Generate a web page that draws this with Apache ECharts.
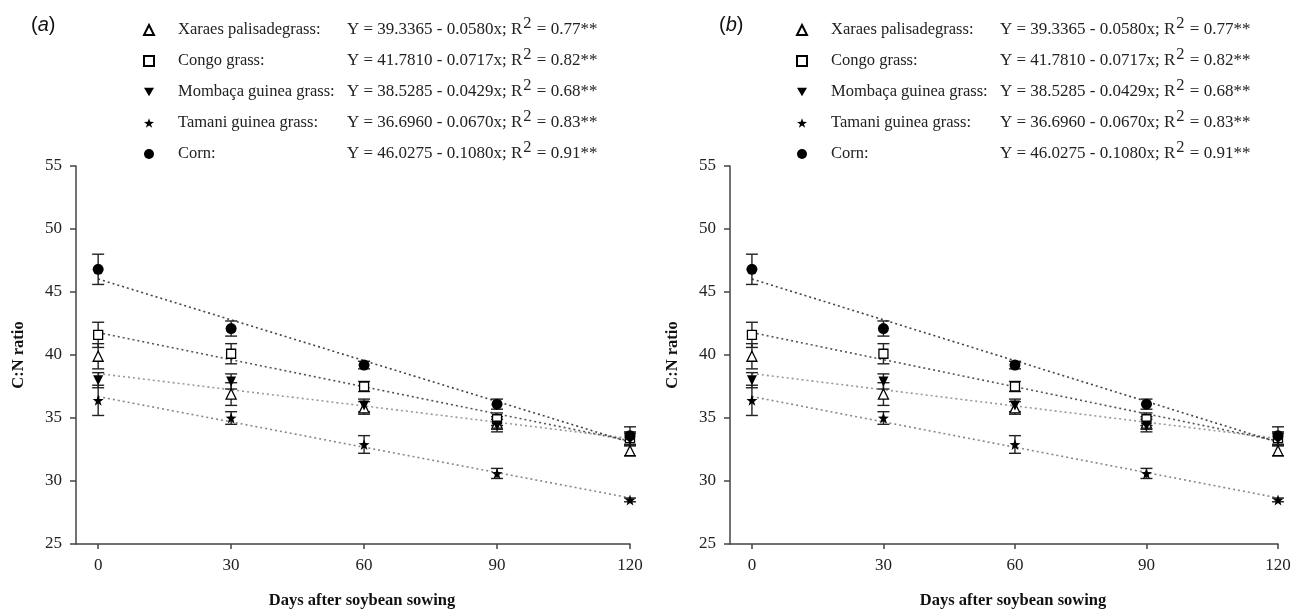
<!DOCTYPE html>
<html>
<head>
<meta charset="utf-8">
<script src="https://cdn.jsdelivr.net/npm/echarts@6/dist/echarts.min.js"></script>
<style>
html, body { margin: 0; padding: 0; background: #fff; }
#chart { width: 1293px; height: 611px; }
</style>
</head>
<body>
<div id="chart"></div>
<script>
// days after sowing
var days = [0, 30, 60, 90, 120];
var xTicks = [0, 30, 60, 90, 120];

// C:N ratio means
var xaraes  = [39.9, 36.9, 35.8, 34.6, 32.4];
var congo   = [41.6, 40.1, 37.5, 34.9, 33.4];
var mombaca = [38.0, 37.9, 36.0, 34.4, 33.3];
var tamani  = [36.4, 35.0, 32.9, 30.6, 28.5];
var corn    = [46.8, 42.1, 39.2, 36.1, 33.6];

// error bar half widths
var xaraesErr  = [1.0, 0.9, 0.5, 0.5, 0.4];
var congoErr   = [1.0, 0.8, 0.4, 0.5, 0.5];
var mombacaErr = [0.6, 0.6, 0.5, 0.5, 0.5];
var tamaniErr  = [1.2, 0.5, 0.7, 0.4, 0.15];
var cornErr    = [1.2, 0.6, 0.3, 0.4, 0.7];

// fitted lines, value at day 0 and day 120
var fitDays   = [0, 120];
var congoFit   = [41.78, 33.18];
var mombacaFit = [38.53, 33.38];
var tamaniFit  = [36.70, 28.66];
var cornFit    = [46.03, 33.07];

var names = ['Xaraes palisadegrass', 'Congo grass', 'Mombaça guinea grass', 'Tamani guinea grass', 'Corn'];
var eqs = ['Y = 39.3365 - 0.0580x; R', 'Y = 41.7810 - 0.0717x; R', 'Y = 38.5285 - 0.0429x; R', 'Y = 36.6960 - 0.0670x; R', 'Y = 46.0275 - 0.1080x; R'];
var r2 = [' = 0.77**', ' = 0.82**', ' = 0.68**', ' = 0.83**', ' = 0.91**'];

var serif = '"Liberation Serif", "DejaVu Serif", serif';
var star = 'path://M0,-10 L2.35,-3.24 L9.51,-3.09 L3.8,1.24 L5.88,8.09 L0,4 L-5.88,8.09 L-3.8,1.24 L-9.51,-3.09 L-2.35,-3.24 Z';
var downTri = 'path://M-10,-8 L10,-8 L0,9 Z';

var plants = [
    {name: names[0], vals: xaraes,  err: xaraesErr,  fit: null,       symbol: 'triangle', size: 10, fill: '#fff'},
    {name: names[1], vals: congo,   err: congoErr,   fit: congoFit,   symbol: 'rect',     size: 9,  fill: '#fff', lc: '#555'},
    {name: names[2], vals: mombaca, err: mombacaErr, fit: mombacaFit, symbol: downTri,    size: 10, fill: '#000', lc: '#999'},
    {name: names[3], vals: tamani,  err: tamaniErr,  fit: tamaniFit,  symbol: star,       size: 11, fill: '#000', lc: '#888'},
    {name: names[4], vals: corn,    err: cornErr,    fit: cornFit,    symbol: 'circle',   size: 11, fill: '#000', lc: '#444'}
];

function errBar(params, api) {
    var x = api.value(0);
    var top = api.coord([x, api.value(2)]);
    var bot = api.coord([x, api.value(1)]);
    var w = 6;
    var st = {stroke: '#222', lineWidth: 1.4};
    return {
        type: 'group',
        children: [
            {type: 'line', shape: {x1: top[0], y1: top[1], x2: bot[0], y2: bot[1]}, style: st},
            {type: 'line', shape: {x1: top[0] - w, y1: top[1], x2: top[0] + w, y2: top[1]}, style: st},
            {type: 'line', shape: {x1: bot[0] - w, y1: bot[1], x2: bot[0] + w, y2: bot[1]}, style: st}
        ]
    };
}

var series = [];
[0, 1].forEach(function(p) {
    plants.forEach(function(pl) {
        if (pl.fit) {
            series.push({
                type: 'line', xAxisIndex: p, yAxisIndex: p, silent: true,
                data: fitDays.map(function(d, i) { return [d, pl.fit[i]]; }),
                showSymbol: false, symbol: 'none',
                lineStyle: {color: pl.lc, width: 1.6, type: [2, 3]},
                z: 1
            });
        }
    });
    plants.forEach(function(pl) {
        series.push({
            type: 'custom', xAxisIndex: p, yAxisIndex: p, silent: true,
            renderItem: errBar,
            encode: {x: 0, y: [1, 2]},
            data: days.map(function(d, i) { return [d, pl.vals[i] - pl.err[i], pl.vals[i] + pl.err[i]]; }),
            z: 2
        });
    });
    plants.forEach(function(pl) {
        series.push({
            type: 'scatter', name: pl.name, xAxisIndex: p, yAxisIndex: p,
            symbol: pl.symbol, symbolSize: pl.size,
            itemStyle: {color: pl.fill, borderColor: '#000', borderWidth: pl.fill === '#fff' ? 1.3 : 0, opacity: 1},
            data: days.map(function(d, i) { return [d, pl.vals[i]]; }),
            z: 3
        });
    });
});

var axisLine = {show: true, onZero: false, lineStyle: {color: '#444', width: 1.5}};

function xAxis(g) {
    return {
        type: 'value', gridIndex: g, min: -5, max: 120,
        splitLine: {show: false},
        axisLine: axisLine,
        axisTick: {show: true, length: 5, lineStyle: {color: '#444', width: 1.5}, customValues: xTicks},
        axisLabel: {customValues: xTicks, fontFamily: serif, fontSize: 17, color: '#222', margin: 13},
        name: 'Days after soybean sowing', nameLocation: 'middle', nameGap: 48,
        nameTextStyle: {fontFamily: serif, fontSize: 16.5, fontWeight: 'bold', color: '#111', padding: [0, 0, 0, 18]}
    };
}
function yAxis(g) {
    return {
        type: 'value', gridIndex: g, min: 25, max: 55, interval: 5,
        splitLine: {show: false},
        axisLine: axisLine,
        axisTick: {show: true, length: 6, lineStyle: {color: '#444', width: 1.5}},
        axisLabel: {fontFamily: serif, fontSize: 17, color: '#222', margin: 14},
        name: 'C:N ratio', nameLocation: 'middle', nameGap: 49,
        nameTextStyle: {fontFamily: serif, fontSize: 16.5, fontWeight: 'bold', color: '#111'}
    };
}

function legend(left) {
    return {
        orient: 'vertical', left: left, top: 10, itemGap: 6,
        itemWidth: 10, itemHeight: 10, selectedMode: false,
        data: names,
        formatter: function(name) {
            var i = names.indexOf(name);
            return '{n|' + name + ':}{e|' + eqs[i] + '}{s|2}{e|' + r2[i] + '}';
        },
        textStyle: {
            rich: {
                n: {fontFamily: serif, fontSize: 16.5, color: '#222', width: 169, padding: [0, 0, 0, 19], lineHeight: 20},
                e: {fontFamily: serif, fontSize: 17, color: '#222', lineHeight: 20},
                s: {fontFamily: serif, fontSize: 16.5, color: '#222', lineHeight: 20, verticalAlign: 'bottom', padding: [0, 1, 8, 1]}
            }
        }
    };
}

function title(text, left) {
    return {
        text: '({i|' + text + '})', left: left, top: 10,
        textStyle: {fontFamily: '"Liberation Sans", Arial, sans-serif', fontSize: 20, fontWeight: 'normal', color: '#111',
            rich: {i: {fontFamily: '"Liberation Sans", Arial, sans-serif', fontSize: 20, fontStyle: 'italic', color: '#111'}}}
    };
}

var chart = echarts.init(document.getElementById('chart'), null, {renderer: 'canvas'});
chart.setOption({
    backgroundColor: '#fff',
    animation: false,
    title: [title('a', 26), title('b', 714)],
    legend: [legend(138), legend(791)],
    grid: [
        {left: 76, top: 166, width: 554, height: 378, outerBoundsMode: 'none'},
        {left: 730, top: 166, width: 548, height: 378, outerBoundsMode: 'none'}
    ],
    xAxis: [xAxis(0), xAxis(1)],
    yAxis: [yAxis(0), yAxis(1)],
    series: series
});
</script>
</body>
</html>
